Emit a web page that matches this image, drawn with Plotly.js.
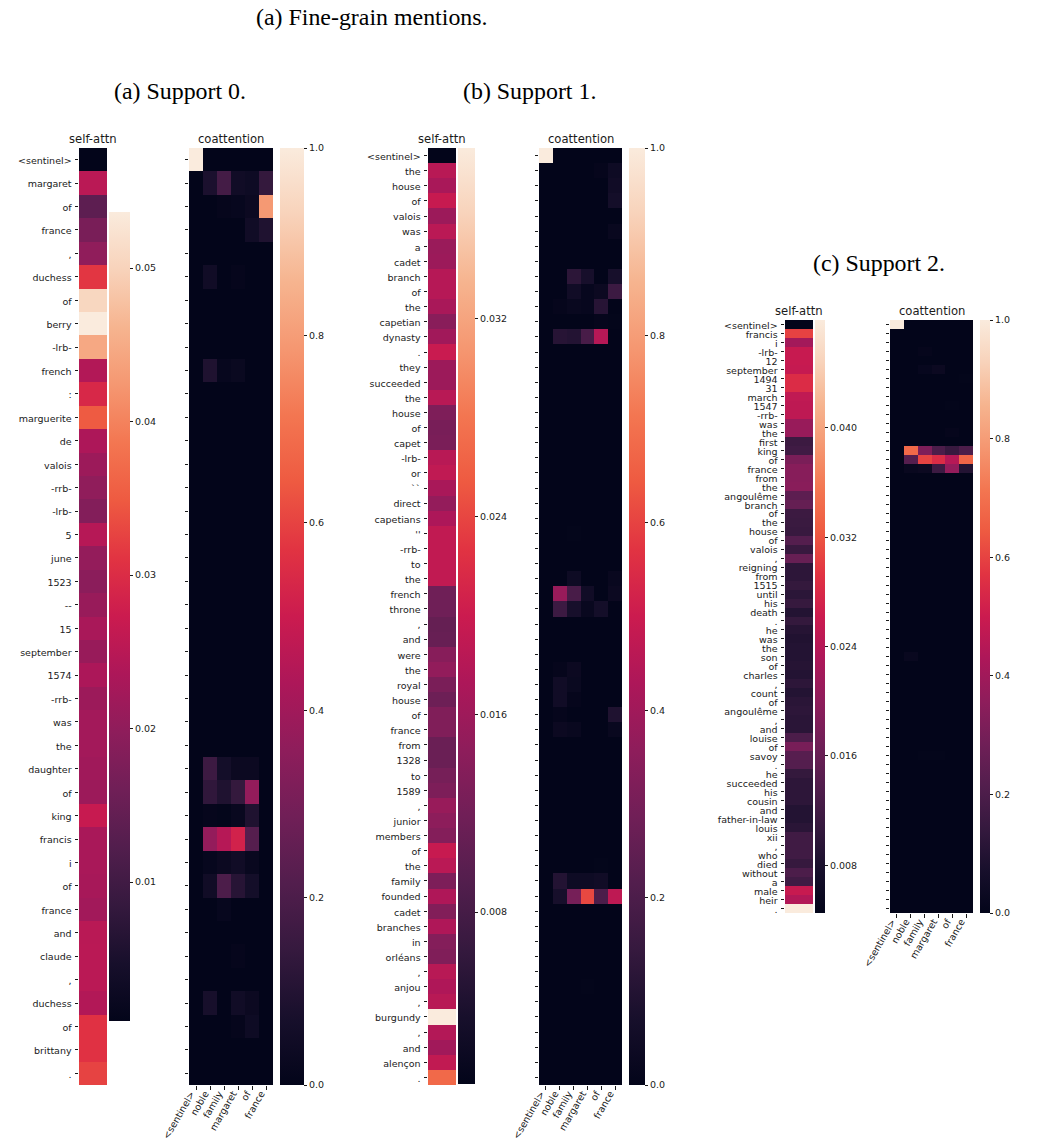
<!DOCTYPE html>
<html>
<head>
<meta charset="utf-8">
<script src="https://cdn.plot.ly/plotly-3.0.1.min.js"></script>
<style>html,body{margin:0;padding:0;background:#fff}#chart{width:1048px;height:1140px}</style>
</head>
<body>
<div id="chart"></div>
<script>
// ---- data ----
const coLabels = ['<sentinel>','noble','family','margaret','of','france'];

const tokensA = ['<sentinel>','margaret','of','france',',','duchess','of','berry','-lrb-','french',':','marguerite','de','valois','-rrb-','-lrb-','5','june','1523','--','15','september','1574','-rrb-','was','the','daughter','of','king','francis','i','of','france','and','claude',',','duchess','of','brittany','.'];
const selfA = [0.00095,0.0252,0.0136,0.0172,0.0200,0.0313,0.0505,0.05365,0.0446,0.0242,0.0294,0.0350,0.0236,0.0215,0.0200,0.0184,0.0247,0.0205,0.0194,0.0210,0.0231,0.0210,0.0234,0.0215,0.0223,0.0223,0.0220,0.0215,0.0268,0.0231,0.0231,0.0228,0.0222,0.0250,0.0252,0.0252,0.0242,0.0308,0.0308,0.0326];
const coA = [[0,0,1],[1,1,.08],[1,2,.18],[1,3,.05],[1,4,.04],[1,5,.14],[2,2,.01],[2,3,.015],[2,4,.03],[2,5,.79],[3,4,.05],[3,5,.09],[5,1,.05],[5,3,.01],[9,1,.09],[9,2,.015],[9,3,.025],[26,1,.16],[26,2,.06],[26,3,.03],[26,4,.03],[27,1,.13],[27,2,.09],[27,3,.14],[27,4,.37],[28,1,.01],[28,2,.005],[28,3,.02],[28,4,.09],[29,1,.37],[29,2,.45],[29,3,.52],[29,4,.22],[30,1,.015],[30,2,.03],[30,3,.05],[30,4,.02],[31,1,.05],[31,2,.2],[31,3,.11],[31,4,.06],[32,2,.015],[34,3,.01],[36,1,.07],[36,3,.05],[36,4,.03],[37,3,.01],[37,4,.04]];
const selfTicksA = [0.01,0.02,0.03,0.04,0.05];
const selfTextA = ['0.01','0.02','0.03','0.04','0.05'];
const selfRangeA = [0.00095,0.05365];

const tokensB = ['<sentinel>','the','house','of','valois','was','a','cadet','branch','of','the','capetian','dynasty','.','they','succeeded','the','house','of','capet','-lrb-','or','``','direct','capetians',"''",'-rrb-','to','the','french','throne',',','and','were','the','royal','house','of','france','from','1328','to','1589',',','junior','members','of','the','family','founded','cadet','branches','in','orléans',',','anjou',',','burgundy',',','and','alençon','.'];
const selfB = [0.00104,0.0183,0.0169,0.0196,0.0158,0.0185,0.0156,0.0158,0.0181,0.0181,0.0169,0.0141,0.0162,0.0198,0.0158,0.0158,0.0183,0.0131,0.0126,0.0128,0.0183,0.0190,0.0169,0.0151,0.0173,0.0191,0.0191,0.0191,0.0191,0.0118,0.0118,0.0109,0.0111,0.0139,0.0149,0.0128,0.0116,0.0133,0.0133,0.0113,0.0113,0.0124,0.0130,0.0154,0.0145,0.0137,0.0196,0.0185,0.0130,0.0175,0.0135,0.0175,0.0137,0.0133,0.0183,0.0175,0.0183,0.0389,0.0178,0.0162,0.0191,0.0268];
const coB = [[0,0,1],[1,4,.01],[1,5,.04],[2,5,.05],[3,5,.06],[5,5,.02],[8,2,.12],[8,3,.07],[8,5,.07],[9,2,.05],[9,3,.015],[9,4,.03],[9,5,.16],[10,1,.01],[10,2,.02],[10,3,.015],[10,4,.11],[11,4,.01],[11,5,.005],[12,1,.11],[12,2,.1],[12,3,.19],[12,4,.45],[25,2,.005],[28,2,.04],[28,5,.02],[29,1,.38],[29,2,.19],[29,3,.05],[29,5,.03],[30,1,.16],[30,2,.07],[30,3,.02],[30,4,.06],[34,1,.01],[34,2,.03],[35,1,.05],[35,2,.025],[36,1,.05],[36,2,.01],[37,1,.01],[37,5,.09],[38,1,.03],[38,2,.02],[38,5,.02],[47,4,.005],[48,1,.1],[48,2,.04],[48,3,.04],[48,4,.05],[49,1,.07],[49,2,.3],[49,3,.61],[49,4,.2],[49,5,.47],[55,3,.005]];
const selfTicksB = [0.008,0.016,0.024,0.032];
const selfTextB = ['0.008','0.016','0.024','0.032'];
const selfRangeB = [0.00104,0.03892];

const tokensC = ['<sentinel>','francis','i','-lrb-','12','september','1494','31','march','1547','-rrb-','was','the','first','king','of','france','from','the','angoulême','branch','of','the','house','of','valois',',','reigning','from','1515','until','his','death','.','he','was','the','son','of','charles',',','count','of','angoulême',',','and','louise','of','savoy','.','he','succeeded','his','cousin','and','father-in-law','louis','xii',',','who','died','without','a','male','heir','.'];
const selfC = [0.0045,0.0305,0.0221,0.0258,0.0258,0.0256,0.0284,0.0284,0.0251,0.0249,0.0249,0.0210,0.0210,0.0114,0.0119,0.0179,0.0193,0.0193,0.0195,0.0149,0.0158,0.0114,0.0112,0.0110,0.0140,0.0110,0.0160,0.0099,0.0099,0.0106,0.0097,0.0108,0.0088,0.0106,0.0091,0.0086,0.0088,0.0088,0.0091,0.0088,0.0099,0.0088,0.0095,0.0099,0.0095,0.0095,0.0132,0.0177,0.0143,0.0140,0.0106,0.0099,0.0099,0.0099,0.0088,0.0088,0.0095,0.0119,0.0119,0.0119,0.0108,0.0132,0.0119,0.0258,0.0236,0.0479];
const coC = [[0,0,1],[3,2,.01],[5,2,.015],[5,3,.03],[6,5,.005],[9,4,.005],[12,4,.01],[14,1,.68],[14,2,.32],[14,3,.2],[14,4,.15],[14,5,.2],[15,1,.22],[15,2,.6],[15,3,.55],[15,4,.45],[15,5,.67],[16,1,.02],[16,2,.03],[16,3,.16],[16,4,.37],[16,5,.1],[37,1,.02],[48,2,.005],[48,3,.005]];
const selfTicksC = [0.008,0.016,0.024,0.032,0.040];
const selfTextC = ['0.008','0.016','0.024','0.032','0.040'];
const selfRangeC = [0.0045,0.0479];

const coTicks = [0,0.2,0.4,0.6,0.8,1];
const coText = ['0.0','0.2','0.4','0.6','0.8','1.0'];

// ---- seaborn "rocket" colormap ----
const rocket = [[0,'#03051a'],[0.07,'#170f2b'],[0.143,'#35193e'],[0.214,'#521e4d'],[0.286,'#701f57'],[0.357,'#8e1d5b'],[0.429,'#ad1759'],[0.5,'#cb1b4f'],[0.571,'#e13342'],[0.643,'#ee5a41'],[0.714,'#f37651'],[0.786,'#f59771'],[0.857,'#f6b48f'],[0.93,'#f8d3bb'],[1,'#faebdd']];

// ---- layout in page pixels ----
const W = 1048, H = 1140;
const tickFont = {family:'DejaVu Sans', size:9.5, color:'#1a1a1a'};
const titleFont = {family:'DejaVu Sans', size:11.6, color:'#1a1a1a'};
const capFont = {family:'Liberation Serif', size:23.9, color:'#000'};
const fx = p => p / W, fy = p => 1 - p / H;

const layout = {
  width: W, height: H,
  margin: {l:0, r:0, t:0, b:0},
  paper_bgcolor: '#fff', plot_bgcolor: '#fff',
  showlegend: false,
  annotations: []
};
const traces = [];
let axisIndex = 1;

function caption(text, cx, cy) {
  layout.annotations.push({text, x:fx(cx), y:fy(cy), xref:'paper', yref:'paper', xanchor:'center', yanchor:'middle', showarrow:false, font:capFont});
}
function axisTitle(text, cx, bottom) {
  layout.annotations.push({text, x:fx(cx), y:fy(bottom), xref:'paper', yref:'paper', xanchor:'center', yanchor:'bottom', showarrow:false, font:titleFont, borderpad:0});
}

function addHeat(z, n, cols, box, cbar, zr, ticks, text, opts) {
  const i = axisIndex++;
  const xn = 'xaxis' + (i === 1 ? '' : i), yn = 'yaxis' + (i === 1 ? '' : i);
  const xr = 'x' + (i === 1 ? '' : i), yr = 'y' + (i === 1 ? '' : i);
  const rows = z.map((_, k) => k);
  const colsIdx = Array.from({length: cols}, (_, k) => k);
  layout[xn] = {
    domain: [fx(box.x0), fx(box.x1)], anchor: yr, range: [-0.5, cols - 0.5], showgrid:false, zeroline:false, showline:false,
    ...(opts.xLabels ? {tickmode:'array', tickvals: colsIdx, ticktext: opts.xLabels, ticks:'outside', ticklen:3.5, tickwidth:0.8, tickcolor:'#1a1a1a', tickangle:-60, tickfont:tickFont, ticklabelshift:-5, ticklabelstandoff:-5}
                     : {showticklabels:false, ticks:''})
  };
  layout[yn] = {
    domain: [fy(box.y1), fy(box.y0)], anchor: xr, range: [n - 0.5, -0.5], showgrid:false, zeroline:false, showline:false,
    tickmode:'array', tickvals: rows, ticktext: opts.yLabels || rows.map(() => ''), ticks:'outside', ticklen:3.5, tickwidth:0.8, tickcolor:'#1a1a1a', tickfont:tickFont, automargin:false, ticklabelstandoff:1, ticklabelshift:-1
  };
  traces.push({
    type:'heatmap', z, x: colsIdx, y: rows, xaxis:xr, yaxis:yr, zmin:zr[0], zmax:zr[1], colorscale:rocket, hoverinfo:'skip',
    colorbar:{
      x:fx(cbar.x0), xanchor:'left', xref:'paper', xpad:0,
      y:fy(cbar.y1), yanchor:'bottom', yref:'paper', ypad:0,
      thickness:cbar.x1 - cbar.x0, thicknessmode:'pixels', len:cbar.y1 - cbar.y0, lenmode:'pixels',
      outlinewidth:0, borderwidth:0, tickmode:'array', tickvals:ticks, ticktext:text,
      ticks:'outside', ticklen:3.5, tickwidth:0.8, tickcolor:'#1a1a1a', tickfont:tickFont
    }
  });
}

function sparse(cells, n) {
  const m = Array.from({length:n}, () => [0,0,0,0,0,0]);
  cells.forEach(c => { m[c[0]][c[1]] = c[2]; });
  return m;
}

function panel(tokens, selfVals, coCells, selfR, sT, sX, g) {
  const n = tokens.length;
  addHeat(selfVals.map(v => [v]), n, 1, {x0:g.s0, x1:g.s1, y0:g.top, y1:g.bot}, {x0:g.sc0, x1:g.sc1, y0:g.scTop, y1:g.scBot}, selfR, sT, sX, {yLabels:tokens});
  addHeat(sparse(coCells, n), n, 6, {x0:g.c0, x1:g.c1, y0:g.top, y1:g.bot}, {x0:g.cc0, x1:g.cc1, y0:g.top, y1:g.bot}, [0,1], coTicks, coText, {xLabels:coLabels});
  axisTitle('self-attn', (g.s0 + g.s1) / 2, g.top - 1);
  axisTitle('coattention', (g.c0 + g.c1) / 2, g.top - 1);
}

panel(tokensA, selfA, coA, selfRangeA, selfTicksA, selfTextA, {s0:79,s1:107,sc0:109,sc1:130,scTop:212,scBot:1021,c0:189,c1:273,cc0:280,cc1:304,top:148,bot:1085});
panel(tokensB, selfB, coB, selfRangeB, selfTicksB, selfTextB, {s0:428,s1:456,sc0:458,sc1:475,scTop:148,scBot:1084,c0:539,c1:622,cc0:629,cc1:645,top:148,bot:1085});
panel(tokensC, selfC, coC, selfRangeC, selfTicksC, selfTextC, {s0:785,s1:813,sc0:815,sc1:825,scTop:320,scBot:913,c0:890,c1:973,cc0:980,cc1:990,top:320,bot:913});

caption('(a) Fine-grain mentions.', 372, 17);
caption('(a) Support 0.', 180, 91.5);
caption('(b) Support 1.', 529, 91.5);
caption('(c) Support 2.', 879, 263);

Plotly.newPlot('chart', traces, layout, {displayModeBar:false, responsive:false});
</script>
</body>
</html>
